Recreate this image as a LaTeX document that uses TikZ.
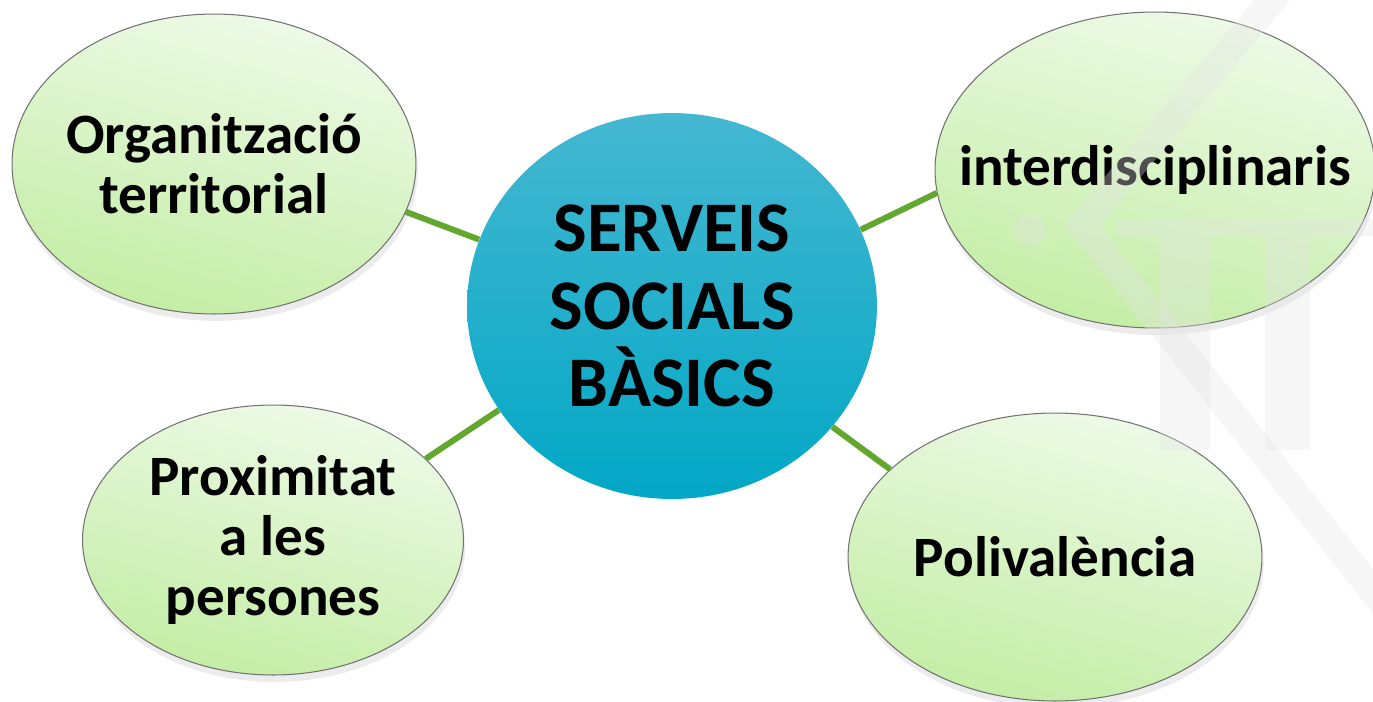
\documentclass[tikz,border=0pt]{standalone}
\usepackage{fontspec}
\setmainfont{Carlito}
\usetikzlibrary{shapes.geometric,shadows}
\definecolor{hubtop}{HTML}{45B7D1}
\definecolor{hubbot}{HTML}{02A8C6}
\definecolor{leaftop}{HTML}{EEFAE8}
\definecolor{leafbot}{HTML}{C3EDA4}
\definecolor{linkgreen}{HTML}{62A82E}
\definecolor{logogray}{HTML}{E4E4E4}

\begin{document}
\begin{tikzpicture}[x=0.02cm,y=-0.02cm,
		hub/.style={ellipse,minimum width=8.2cm,minimum height=7.72cm,inner sep=0pt,top color=hubtop,bottom color=hubbot,align=center,font=\bfseries\fontsize{40.5}{44}\selectfont},
		leaf/.style={ellipse,draw=black!55,line width=0.6pt,inner xsep=-1.5cm,inner ysep=-0.4cm,top color=leaftop,bottom color=leafbot,shading angle=-15,align=center,font=\bfseries\fontsize{32.5}{34}\selectfont,drop shadow={opacity=0.15,shadow xshift=1pt,shadow yshift=-4pt}},
		link/.style={draw=linkgreen,line width=3.4pt},
		logo/.style={draw=logogray,line width=0.55cm,opacity=0.35},
		logopart/.style={fill=logogray,opacity=0.35}]
		\useasboundingbox (0,0) rectangle (1373,701);

		\node[hub] (hub) at (672,306) {SERVEIS\\SOCIALS\\BÀSICS};

		\node[leaf,minimum width=8.08cm,minimum height=6cm] (org) at (214,164) {Organització\\territorial};
		\node[leaf,minimum width=8.8cm,minimum height=6.32cm] (inter) at (1155,170) {interdisciplinaris};
		\node[leaf,minimum width=7.62cm,minimum height=5.4cm] (prox) at (273,540) {Proximitat\\a les\\persones};
		\node[leaf,minimum width=8.28cm,minimum height=5.76cm] (poli) at (1055,557) {Polivalència};

		% connectors from the hub
		\draw[link] (hub.161) -- (org.346);
		\draw[link] (hub.22) -- (inter.186);
		\draw[link] (hub.211) -- (prox.28);
		\draw[link] (hub.323) -- (poli.152);

		% faint logo over the right side
		\draw[logo] (1285,-15) -- (1082,225) -- (1400,625);
		\fill[logopart] (1117,219) rectangle (1373,236);
		\fill[logopart] (1160,236) rectangle (1210,450);
		\fill[logopart] (1265,236) rectangle (1310,450);
		\fill[logopart] (1030,230) circle (16);
	\end{tikzpicture}
\end{document}
